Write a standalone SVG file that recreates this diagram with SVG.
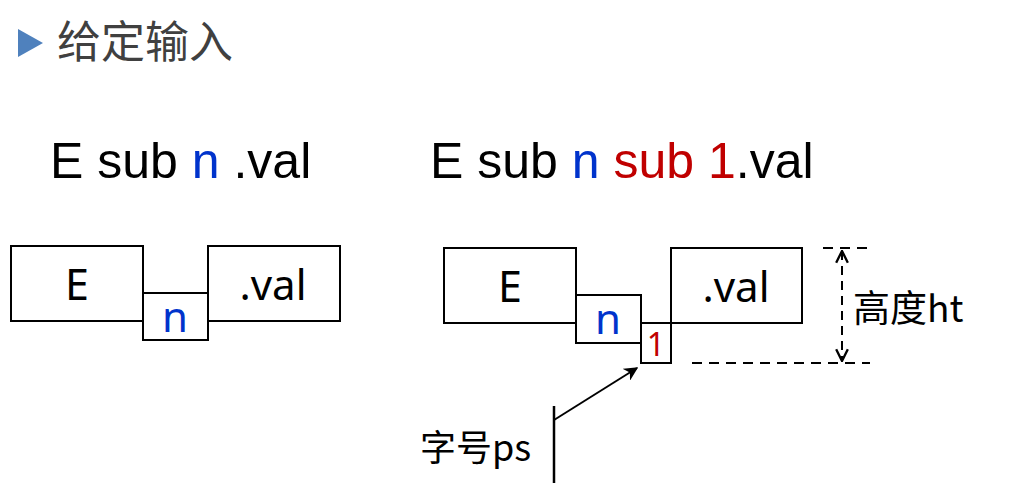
<svg xmlns="http://www.w3.org/2000/svg" width="1024" height="503" viewBox="0 0 1024 503">
<style>
.box{fill:#fff;stroke:#000;stroke-width:2}
.lbl{font-family:"Noto Sans","Open Sans","Noto Sans CJK SC",sans-serif;text-anchor:middle;fill:#000}
.expr{font-family:"Liberation Sans",Arial,sans-serif;fill:#000}
.cjk{font-family:"Noto Sans CJK SC","Noto Sans",sans-serif;fill:#000}
.dash{stroke:#000;stroke-width:2;stroke-dasharray:10 7;fill:none}
</style>
<defs>
<marker id="ah2" viewBox="0 0 10 10" refX="9" refY="5" markerWidth="14" markerHeight="14" orient="auto" markerUnits="userSpaceOnUse">
<path d="M0,0 L10,5 L0,10 L3,5 Z" fill="#000"/>
</marker>
<marker id="vee" viewBox="0 0 12 12" refX="11" refY="6" markerWidth="14" markerHeight="14" orient="auto-start-reverse" markerUnits="userSpaceOnUse">
<path d="M1,1 L11,6 L1,11" fill="none" stroke="#000" stroke-width="2"/>
</marker>
</defs>
<rect width="1024" height="503" fill="#fff"/>
<g id="title">
<polygon points="18,29 43,43 18,57" fill="#4f81bd"/>
<text x="57" y="58" class="cjk" font-size="44" style="fill:#404040">给定输入</text>
</g>
<g id="expr-left"><text x="50" y="178" class="expr" font-size="50">E sub <tspan fill="#0033cc">n</tspan> .val</text></g>
<g id="expr-right"><text x="430" y="178" class="expr" font-size="50">E sub <tspan fill="#0033cc">n</tspan> <tspan fill="#c00000">sub 1</tspan>.val</text></g>
<g id="left-E"><rect class="box" x="11" y="246" width="132" height="75"/><text class="lbl" x="77" y="300" font-size="43">E</text></g>
<g id="left-n"><rect class="box" x="143" y="293" width="65" height="47"/><text class="lbl" x="175" y="332" font-size="42" style="fill:#0033cc">n</text></g>
<g id="left-val"><rect class="box" x="208" y="246" width="132" height="75"/><text class="lbl" x="273" y="300" font-size="42">.val</text></g>
<g id="right-E"><rect class="box" x="444" y="248" width="132" height="75"/><text class="lbl" x="510" y="302" font-size="43">E</text></g>
<g id="right-n"><rect class="box" x="576" y="295" width="65" height="48"/><text class="lbl" x="608" y="334" font-size="42" style="fill:#0033cc">n</text></g>
<g id="right-1"><rect class="box" x="641" y="323" width="30" height="40"/><text class="lbl" x="656" y="356" font-size="32" style="fill:#c00000">1</text></g>
<g id="right-val"><rect class="box" x="671" y="248" width="131" height="75"/><text class="lbl" x="736" y="302" font-size="42">.val</text></g>
<g id="ht-label"><text x="853" y="322" class="cjk" font-size="37">高度ht</text></g>
<g id="ps-label"><text x="420" y="461" class="cjk" font-size="36">字号ps</text></g>
<g id="connectors">
<line class="dash" x1="823" y1="248" x2="870" y2="248"/>
<line class="dash" x1="692" y1="363" x2="870" y2="363"/>
<line class="dash" x1="842" y1="251" x2="842" y2="361" marker-start="url(#vee)" marker-end="url(#vee)" style="stroke-dasharray:9 6"/>
<line x1="554" y1="406" x2="554" y2="483" stroke="#000" stroke-width="2.5"/>
<line x1="554" y1="420" x2="637" y2="368" stroke="#000" stroke-width="2" marker-end="url(#ah2)"/>
</g>
</svg>
